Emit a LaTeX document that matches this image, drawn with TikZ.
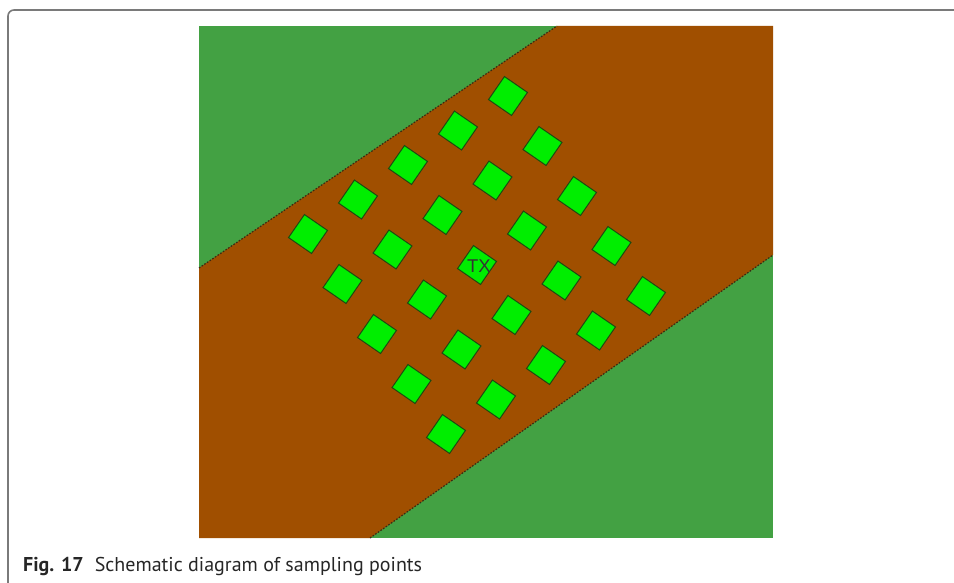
\documentclass[tikz,border=0pt]{standalone}
\usepackage{fontspec}
\newfontfamily\capfont{PT Sans}
\newfontfamily\txfont{Liberation Sans}
\definecolor{fieldgreen}{HTML}{43A143}
\definecolor{roadbrown}{HTML}{A04F00}
\definecolor{ptgreen}{HTML}{00EE00}
\definecolor{ptedge}{HTML}{1E4A12}
\definecolor{edgedash}{HTML}{3A2A12}
\definecolor{framegray}{HTML}{7A7A7A}
\tikzset{
  sample/.style={draw=ptedge, line width=1pt, fill=ptgreen, rotate=-34.6,
    minimum size=28pt, inner sep=0pt, outer sep=0pt},
  bandedge/.style={draw=edgedash, line width=1.2pt, dash pattern=on 1.6pt off 1.6pt},
  frameline/.style={draw=framegray, line width=1.6pt, rounded corners=6pt}
}
\begin{document}
\begin{tikzpicture}[x=1pt,y=-1pt]
\useasboundingbox (0,0) rectangle (954,583);
% frame
\draw[frameline] (8,583) -- (8,10) -- (954,10);
% field background
\fill[fieldgreen] (199,26) rectangle (773,538);
% road band
\fill[roadbrown] (199,268) -- (557,26) -- (773,26) -- (773,255) -- (370,538) -- (199,538) -- cycle;
\coordinate (ua) at (199,268);
\coordinate (ub) at (557,26);
\coordinate (la) at (370,538);
\coordinate (lb) at (773,255);
\draw[bandedge] (ua) -- (ub);
\draw[bandedge] (la) -- (lb);
% sampling points
\foreach \i in {0,...,4}{
  \foreach \j in {0,...,4}{
    \node[sample] (s\i\j) at ({308+50*\j+34.5*\i},{234-34.5*\j+50*\i}) {};
  }
}
\node[font=\txfont\fontsize{18.5}{18.5}\selectfont, text=black!80, inner sep=0pt] (tx) at ([xshift=2pt,yshift=-1pt]s22) {TX};
% caption
\node[anchor=base west, inner sep=0pt, font=\capfont\fontsize{20}{22}\selectfont, text=black!85] (cap) at (23,571) {\textbf{Fig. 17}\hspace{0.55em}Schematic diagram of sampling points};
\end{tikzpicture}
\end{document}
